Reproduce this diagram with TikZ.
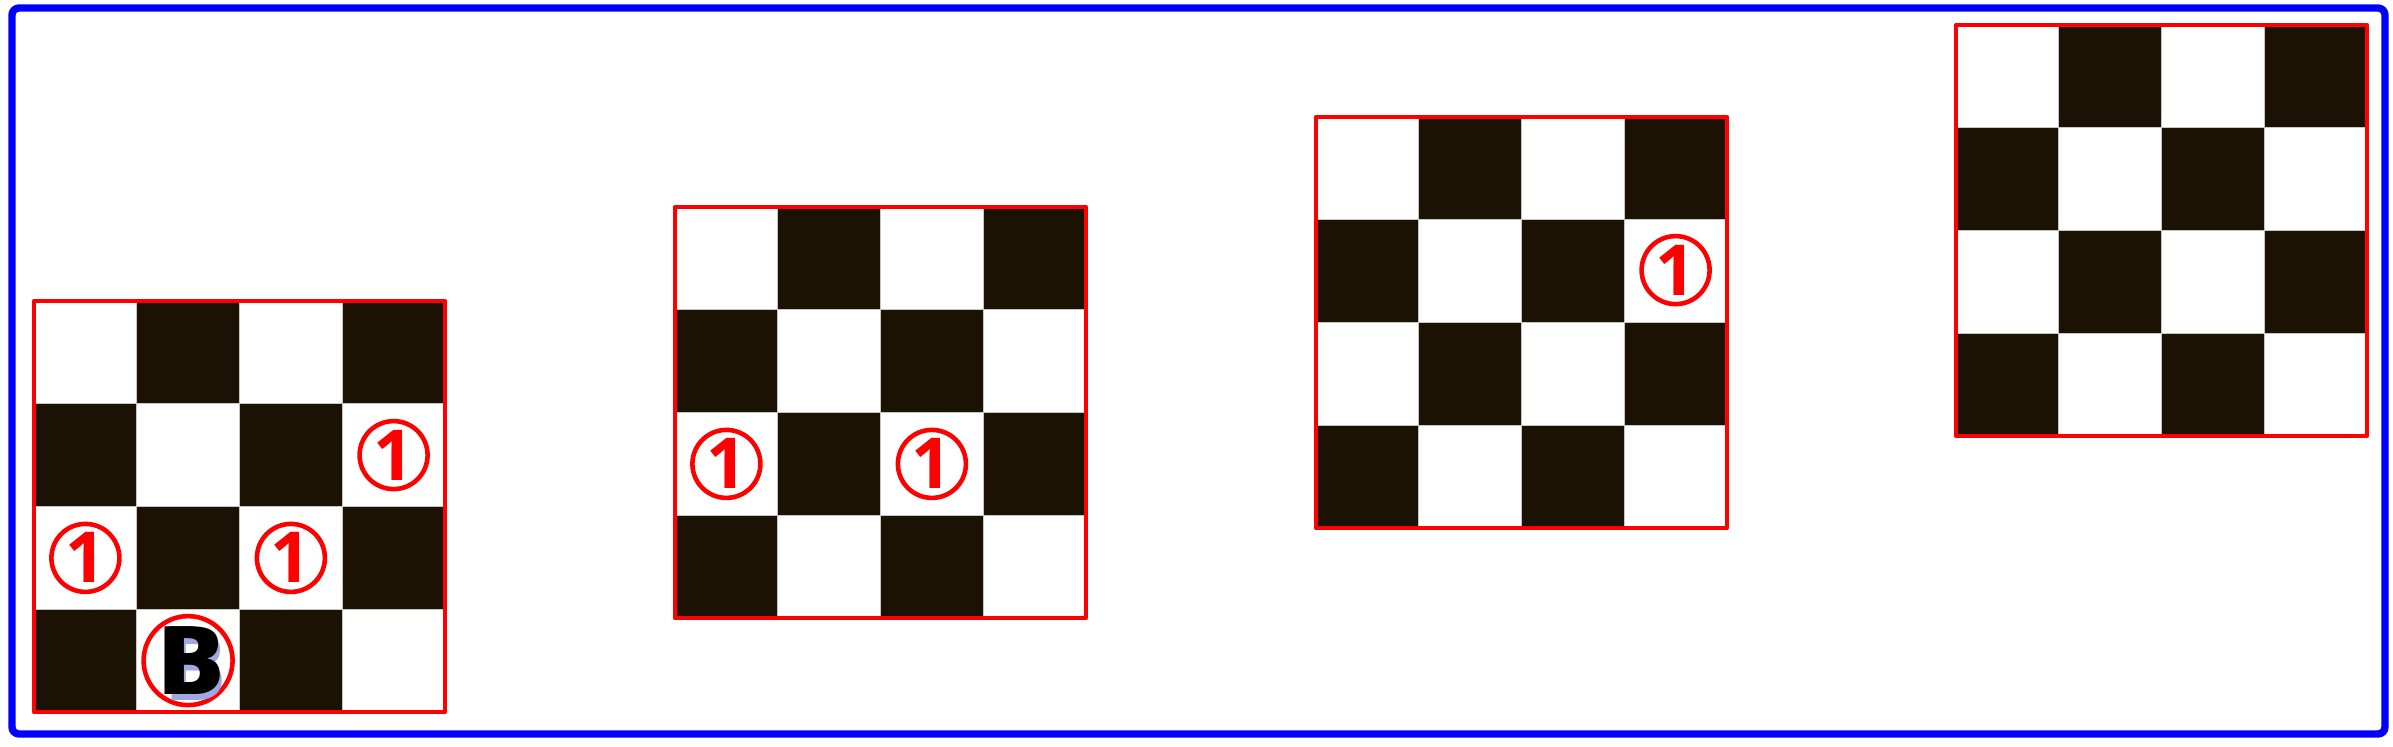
\documentclass[tikz,border=0pt]{standalone}
\usepackage{fontspec}
\newfontfamily\piecefont{Open Sans}
\definecolor{sqdark}{RGB}{27,18,4}
\definecolor{shadowblue}{RGB}{160,168,225}

\begin{document}
\begin{tikzpicture}[line cap=round,line join=round,x=0.1mm,y=0.1mm,
	cell/.style={draw=gray!45,line width=0.3pt},
	boardframe/.style={draw=red,line width=1.3pt},
	onepiece/.style={circle,draw=red,line width=1.3pt,minimum size=6.8mm,inner sep=0pt,text=red,font=\piecefont\bfseries\fontsize{20}{20}\selectfont},
	bpiece/.style={circle,draw=red,line width=1.3pt,minimum size=8.9mm,inner sep=0pt},
	bletter/.style={font=\piecefont\bfseries\fontsize{27}{27}\selectfont,inner sep=0pt}]
		\useasboundingbox (0,0) rectangle (2393,746);
		\draw [blue,line width=2.1pt,rounded corners=2pt] (12,12) rectangle (2385,738);
		% the four boards
		\foreach \bx/\by in {34/34,675/128,1316/218,1956/310}{
			\foreach \c in {0,...,3}{
				\foreach \r in {0,...,3}{
					\pgfmathtruncatemacro\k{\c+\r}
					\ifodd\k \def\sq{white}\else\def\sq{sqdark}\fi
					\filldraw [cell,fill=\sq] ({\bx+\c*102.75},{\by+\r*102.75}) rectangle +(102.75,102.75);
				}
			}
			\draw [boardframe] (\bx,\by) rectangle +(411,411);
		}
		% pieces
		\node [onepiece] (oneA) at (393.6,290.9) {1};
		\node [onepiece] (oneB) at (85.4,188.1) {1};
		\node [onepiece] (oneC) at (290.9,188.1) {1};
		\node [bpiece] (bee) at (188.1,85.4) {};
		\node [bletter,text=shadowblue] at (195,79) {B};
		\node [bletter] (beetext) at (bee) {B};
		\node [bletter] at ([xshift=1.5]bee) {B};
		\node [onepiece] (oneD) at (726.4,282.1) {1};
		\node [onepiece] (oneE) at (931.9,282.1) {1};
		\node [onepiece] (oneF) at (1675.6,475.9) {1};
	\end{tikzpicture}
\end{document}
